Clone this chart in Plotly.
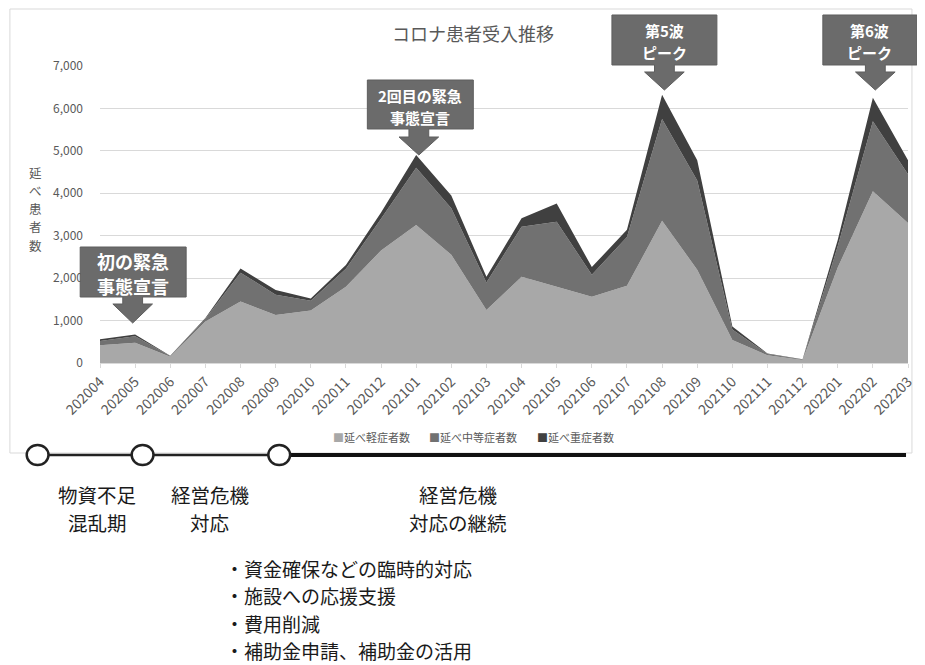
import plotly.graph_objects as go

# ---------------- data ----------------
months = ['202004', '202005', '202006', '202007', '202008', '202009', '202010', '202011',
          '202012', '202101', '202102', '202103', '202104', '202105', '202106', '202107',
          '202108', '202109', '202110', '202111', '202112', '202201', '202202', '202203']
mild = [420, 480, 150, 980, 1450, 1130, 1240, 1800, 2650, 3250, 2550, 1250,
        2030, 1800, 1560, 1820, 3350, 2200, 540, 180, 70, 2250, 4050, 3300]
moderate = [100, 150, 15, 60, 680, 480, 230, 420, 750, 1350, 1100, 650,
            1180, 1530, 520, 1150, 2400, 2100, 250, 35, 12, 500, 1650, 1150]
severe = [40, 40, 5, 20, 100, 110, 50, 90, 150, 300, 300, 130,
          200, 430, 180, 170, 570, 480, 70, 10, 5, 150, 550, 330]
series_names = ['延べ軽症者数', '延べ中等症者数', '延べ重症者数']
y_ticks = [0, 1000, 2000, 3000, 4000, 5000, 6000, 7000]
title_text = 'コロナ患者受入推移'
y_title_chars = ['延', 'べ', '患', '者', '数']
callouts = [(['初の緊急', '事態宣言'], 18), (['2回目の緊急', '事態宣言'], 15),
            (['第5波', 'ピーク'], 15), (['第6波', 'ピーク'], 15)]
phases = [['物資不足', '混乱期'], ['経営危機', '対応'], ['経営危機', '対応の継続']]
bullets = ['・資金確保などの臨時的対応', '・施設への応援支援', '・費用削減', '・補助金申請、補助金の活用']

# ---------------- geometry (screen pixels; page has an 8px body margin) ----------------
OFF = 8
W, H = 925 - OFF, 665 - OFF
L, R, T, B = 100, 916, 66, 363
PW, PH = R - L, B - T
FONT = 'Noto Sans CJK JP, Noto Sans, sans-serif'


def px(x):
    return (x - L) / PW


def py(y):
    return (B - y) / PH


colors = ['#a8a8a8', '#717171', '#404040']

fig = go.Figure()
for name, vals, c in zip(series_names, [mild, moderate, severe], colors):
    fig.add_trace(go.Scatter(
        x=months, y=vals, name=name, stackgroup='one', mode='lines',
        line=dict(width=0, color=c), fillcolor=c, showlegend=False,
    ))

shapes = []
annotations = []


def text_at(x, y, txt, size, color, xanchor='center', bold=False):
    annotations.append(dict(xref='paper', yref='paper', x=px(x), y=py(y),
                            text=f'<b>{txt}</b>' if bold else txt, showarrow=False,
                            xanchor=xanchor, yanchor='middle', borderpad=0, borderwidth=0,
                            font=dict(family=FONT, size=size, color=color)))


# outer chart border
shapes.append(dict(type='rect', xref='paper', yref='paper', x0=px(9), x1=px(920), y0=py(9), y1=py(453),
                   line=dict(color='#d9d9d9', width=1), fillcolor='rgba(0,0,0,0)', layer='below'))


def callout(x0, x1, y0, y1, cx, sw, hw, ys, tip):
    pts = [(x0, y0), (x1, y0), (x1, y1), (cx + sw, y1), (cx + sw, ys), (cx + hw, ys), (cx, tip),
           (cx - hw, ys), (cx - sw, ys), (cx - sw, y1), (x0, y1)]
    path = 'M ' + ' L '.join(f'{px(a):.5f},{py(b):.5f}' for a, b in pts) + ' Z'
    return dict(type='path', xref='paper', yref='paper', path=path, fillcolor='#6b6b6b',
                line=dict(color='#5e5e5e', width=1), layer='above')


boxes = [
    (80, 187, 247, 297, 133, 10, 20, 304, 323),
    (370, 477, 80, 129, 422, 10, 20, 137, 155),
    (617, 723, 15, 65, 670, 10, 20, 72, 90),
    (830, 925, 15, 65, 883, 10, 20, 72, 90),
]
line_y = [(261, 286), (95, 117), (30, 52), (30, 52)]
for b, (lines, fs), ys in zip(boxes, callouts, line_y):
    shapes.append(callout(*b))
    for t, yy in zip(lines, ys):
        text_at((b[0] + b[1]) / 2, yy, t, fs, 'white', bold=True)

# legend (as text)
for name, c, x0 in zip(series_names, colors, [335, 432, 541]):
    text_at(x0, 437, f'<span style="color:{c}">■</span>{name}', 11, '#595959', xanchor='left')

# timeline
shapes.append(dict(type='line', xref='paper', yref='paper', x0=px(37), x1=px(281), y0=py(455), y1=py(455),
                   line=dict(color='#222222', width=2.5)))
shapes.append(dict(type='line', xref='paper', yref='paper', x0=px(281), x1=px(914), y0=py(455), y1=py(455),
                   line=dict(color='#111111', width=4)))
for cx in [37, 143, 281]:
    shapes.append(dict(type='circle', xref='paper', yref='paper', x0=px(cx - 11), x1=px(cx + 11),
                       y0=py(445), y1=py(465), fillcolor='white', line=dict(color='#222222', width=2.5)))

# title
text_at(477, 33, title_text, 18, '#595959')
# y-axis title (stacked vertical)
for i, ch in enumerate(y_title_chars):
    text_at(35, 172 + i * 18.3, ch, 12.5, '#595959')
# phase labels
for lines, cx in zip(phases, [97, 211, 462]):
    for t, yy in zip(lines, [494, 522.5]):
        text_at(cx, yy, t, 19.5, '#1a1a1a')
# bullet list
for i, t in enumerate(bullets):
    text_at(226, 568 + i * 27.5, t, 19, '#1a1a1a', xanchor='left')

fig.update_layout(
    width=W, height=H,
    margin=dict(l=L - OFF, r=925 - R, t=T - OFF, b=665 - B),
    paper_bgcolor='white', plot_bgcolor='white',
    font=dict(family=FONT, color='#595959'),
    showlegend=False,
    shapes=shapes, annotations=annotations,
    xaxis=dict(type='category', range=[0, len(months) - 1], tickangle=-45, showgrid=False,
               tickfont=dict(size=14, color='#595959'), ticks='outside', ticklen=4, tickcolor='#d9d9d9',
               showline=True, linecolor='#d9d9d9', zeroline=False),
    yaxis=dict(range=[0, 7000], tickvals=y_ticks, tickformat=',d', showgrid=True, gridcolor='#d9d9d9',
               zeroline=False, tickfont=dict(size=12, color='#595959'), ticklabelstandoff=16),
)

fig.write_html('out.html')
